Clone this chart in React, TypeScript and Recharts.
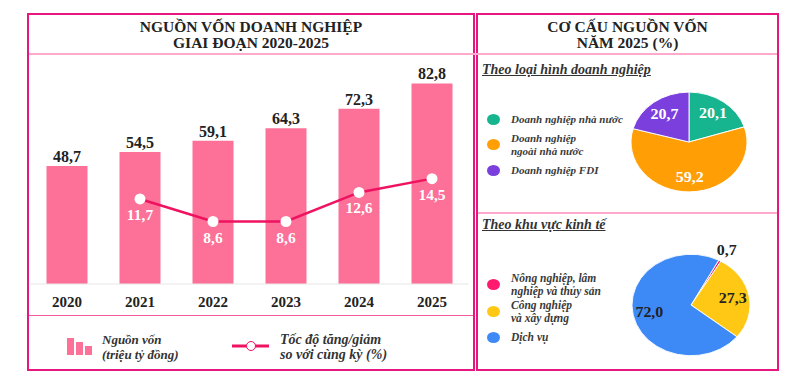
import React from "react"
import { ComposedChart, Bar, Line, XAxis, YAxis, LabelList, PieChart, Pie, Cell } from "recharts"

const SERIF = '"Liberation Serif", "DejaVu Serif", serif'

// left chart data
const years = ["2020", "2021", "2022", "2023", "2024", "2025"]
const capital = [48.7, 54.5, 59.1, 64.3, 72.3, 82.8]
const growth: (number | null)[] = [null, 11.7, 8.6, 8.6, 12.6, 14.5]

// pie 1: by enterprise type
const ownerTypes = ["Doanh nghiệp nhà nước", "Doanh nghiệp ngoài nhà nước", "Doanh nghiệp FDI"]
const ownerLines = [["Doanh nghiệp nhà nước"], ["Doanh nghiệp", "ngoài nhà nước"], ["Doanh nghiệp FDI"]]
const ownerShares = [20.1, 59.2, 20.7]
const ownerColors = ["#17b58f", "#ff9f05", "#7a3fdc"]

// pie 2: by economic sector
const sectors = ["Nông nghiệp, lâm nghiệp và thủy sản", "Công nghiệp và xây dựng", "Dịch vụ"]
const sectorLines = [["Nông nghiệp, lâm", "nghiệp và thủy sản"], ["Công nghiệp", "và xây dựng"], ["Dịch vụ"]]
const sectorShares = [0.7, 27.3, 72.0]
const sectorColors = ["#ff1a70", "#ffc814", "#3d8af7"]

const BAR_COLOR = "#fd7097"
const LINE_COLOR = "#ef1260"
const BORDER = "#e8177f"
const SEP = "#ffaacd"

const fmt = (v: any) => (v === null || v === undefined ? "" : Number(v).toFixed(1).replace(".", ","))

const chartData = years.map((y, i) => ({ year: y, capital: capital[i], growth: growth[i] }))

const RADIAN = Math.PI / 180

function makeLabel(fill: string, insideRatio: number, outsideIdx: number[] = []) {
  return (props: any) => {
    const { cx, cy, midAngle, outerRadius, value, index } = props
    const r = outsideIdx.includes(index) ? outerRadius + 14 : outerRadius * insideRatio
    const x = cx + r * Math.cos(-midAngle * RADIAN)
    const y = cy + r * Math.sin(-midAngle * RADIAN)
    const color = outsideIdx.includes(index) ? "#222" : fill
    return (
      <text x={x} y={y} fill={color} textAnchor="middle" dominantBaseline="central"
        style={{ fontFamily: SERIF, fontSize: 16, fontWeight: 700 }}>
        {fmt(value)}
      </text>
    )
  }
}

function PieLegend({ lines, colors, top, rowTops, size }: { lines: string[][]; colors: string[]; top: number; rowTops: number[]; size: number }) {
  return (
    <>
      {lines.map((ls, i) => (
        <div key={i} style={{ position: "absolute", left: 487, top: top + rowTops[i], display: "flex", alignItems: "center" }}>
          <div style={{ width: 13, height: 11, borderRadius: "50%", background: colors[i], marginRight: 11, flexShrink: 0 }} />
          <div style={{ fontFamily: SERIF, fontStyle: "italic", fontWeight: 700, fontSize: size, color: "#3a3a3a", lineHeight: "12.5px" }}>
            {ls.map((l, j) => <div key={j}>{l}</div>)}
          </div>
        </div>
      ))}
    </>
  )
}

export default function App() {
  const ownerData = ownerTypes.map((n, i) => ({ name: n, value: ownerShares[i] }))
  const sectorData = sectors.map((n, i) => ({ name: n, value: sectorShares[i] }))

  return (
    <div style={{ position: "absolute", left: 0, top: 0, width: 808, height: 385, background: "#fff", overflow: "hidden" }}>
      {/* left box */}
      <div style={{ position: "absolute", left: 27, top: 13, width: 448, height: 358, border: `2px solid ${BORDER}`, boxSizing: "border-box" }} />
      {/* right box */}
      <div style={{ position: "absolute", left: 476, top: 13, width: 303, height: 358, border: `2px solid ${BORDER}`, boxSizing: "border-box" }} />
      {/* separators */}
      <div style={{ position: "absolute", left: 29, top: 53, width: 748, height: 1.5, background: SEP }} />
      <div style={{ position: "absolute", left: 29, top: 315, width: 444, height: 1, background: "#f35aa0" }} />
      <div style={{ position: "absolute", left: 478, top: 212, width: 299, height: 1.5, background: SEP }} />

      {/* titles */}
      <div style={{ position: "absolute", left: 29, top: 19, width: 444, textAlign: "center", fontFamily: SERIF, fontWeight: 700, fontSize: 15.5, lineHeight: "16px", color: "#222" }}>
        NGUỒN VỐN DOANH NGHIỆP<br />GIAI ĐOẠN 2020-2025
      </div>
      <div style={{ position: "absolute", left: 478, top: 19, width: 299, textAlign: "center", fontFamily: SERIF, fontWeight: 700, fontSize: 15.5, lineHeight: "16px", color: "#222" }}>
        CƠ CẤU NGUỒN VỐN<br />NĂM 2025 (%)
      </div>

      {/* main chart */}
      <div style={{ position: "absolute", left: 27, top: 56 }}>
        <ComposedChart width={448} height={258} data={chartData}
          margin={{ top: 10, right: 6.5, bottom: 0, left: 3.5 }}
          barCategoryGap={16}
          style={{ fontFamily: SERIF }}>
          <XAxis dataKey="year" tickLine={false} axisLine={{ stroke: "#e6e6e6" }} tickMargin={6}
            tick={{ fill: "#222", fontSize: 15, fontWeight: 700, fontFamily: SERIF }} interval={0} />
          <YAxis yAxisId="left" domain={[0, 90]} hide />
          <YAxis yAxisId="right" orientation="right" domain={[0, 30]} hide />
          <Bar yAxisId="left" dataKey="capital" fill={BAR_COLOR} barSize={41} isAnimationActive={false}>
            <LabelList dataKey="capital" position="top" offset={4} formatter={fmt}
              style={{ fill: "#222", fontSize: 16, fontWeight: 700, fontFamily: SERIF }} />
          </Bar>
          <Line yAxisId="right" dataKey="growth" stroke={LINE_COLOR} strokeWidth={2.5}
            dot={{ r: 5.5, fill: "#fff", stroke: "#fff", strokeWidth: 0 }} activeDot={false}
            isAnimationActive={false}>
            <LabelList dataKey="growth" position="bottom" offset={10} formatter={fmt}
              style={{ fill: "#fff", fontSize: 15.5, fontWeight: 700, fontFamily: SERIF }} />
          </Line>
        </ComposedChart>
      </div>

      {/* bottom legend */}
      <svg style={{ position: "absolute", left: 60, top: 330 }} width={40} height={30}>
        <rect x={7} y={8} width={7} height={17} fill={BAR_COLOR} />
        <rect x={16} y={12} width={7} height={13} fill={BAR_COLOR} />
        <rect x={25} y={16} width={7} height={9} fill={BAR_COLOR} />
      </svg>
      <div style={{ position: "absolute", left: 102, top: 332, fontFamily: SERIF, fontStyle: "italic", fontWeight: 700, fontSize: 13, lineHeight: "15px", color: "#333" }}>
        Nguồn vốn<br />(triệu tỷ đồng)
      </div>
      <svg style={{ position: "absolute", left: 230, top: 336 }} width={42} height={20}>
        <line x1={2} y1={10} x2={39} y2={10} stroke={LINE_COLOR} strokeWidth={3} />
        <circle cx={21} cy={10} r={4.5} fill="#fff" stroke={LINE_COLOR} strokeWidth={1} />
      </svg>
      <div style={{ position: "absolute", left: 280, top: 332, fontFamily: SERIF, fontStyle: "italic", fontWeight: 700, fontSize: 14, lineHeight: "15px", color: "#333" }}>
        Tốc độ tăng/giảm<br />so với cùng kỳ (%)
      </div>

      {/* right headings */}
      <div style={{ position: "absolute", left: 482, top: 62, fontFamily: SERIF, fontStyle: "italic", fontWeight: 700, fontSize: 14, color: "#333", textDecoration: "underline" }}>
        Theo loại hình doanh nghiệp
      </div>
      <div style={{ position: "absolute", left: 482, top: 217, fontFamily: SERIF, fontStyle: "italic", fontWeight: 700, fontSize: 14, color: "#333", textDecoration: "underline" }}>
        Theo khu vực kinh tế
      </div>

      <PieLegend lines={ownerLines} colors={ownerColors} top={113} rowTops={[0, 19, 51]} size={11} />
      <PieLegend lines={sectorLines} colors={sectorColors} top={272} rowTops={[0, 27, 59]} size={11.5} />

      {/* pie 1 */}
      <div style={{ position: "absolute", left: 624, top: 77, transform: "scaleY(0.86)", transformOrigin: "65px 65px" }}>
        <PieChart width={130} height={130} margin={{ top: 0, right: 0, bottom: 0, left: 0 }}>
          <Pie data={ownerData} dataKey="value" cx={65} cy={65} outerRadius={58} startAngle={90} endAngle={-270}
            stroke="#fff" strokeWidth={1} labelLine={false} label={makeLabel("#fff", 0.7)} isAnimationActive={false}>
            {ownerData.map((_, i) => <Cell key={i} fill={ownerColors[i]} />)}
          </Pie>
        </PieChart>
      </div>

      {/* pie 2 */}
      <div style={{ position: "absolute", left: 616, top: 230, transform: "scaleY(0.86)", transformOrigin: "75px 75px" }}>
        <PieChart width={150} height={150} margin={{ top: 0, right: 0, bottom: 0, left: 0 }}>
          <Pie data={sectorData} dataKey="value" cx={75} cy={75} outerRadius={59} startAngle={62} endAngle={-298}
            stroke="#fff" strokeWidth={1} labelLine={false} label={makeLabel("#222", 0.72, [0])} isAnimationActive={false}>
            {sectorData.map((_, i) => <Cell key={i} fill={sectorColors[i]} />)}
          </Pie>
        </PieChart>
      </div>
    </div>
  )
}
